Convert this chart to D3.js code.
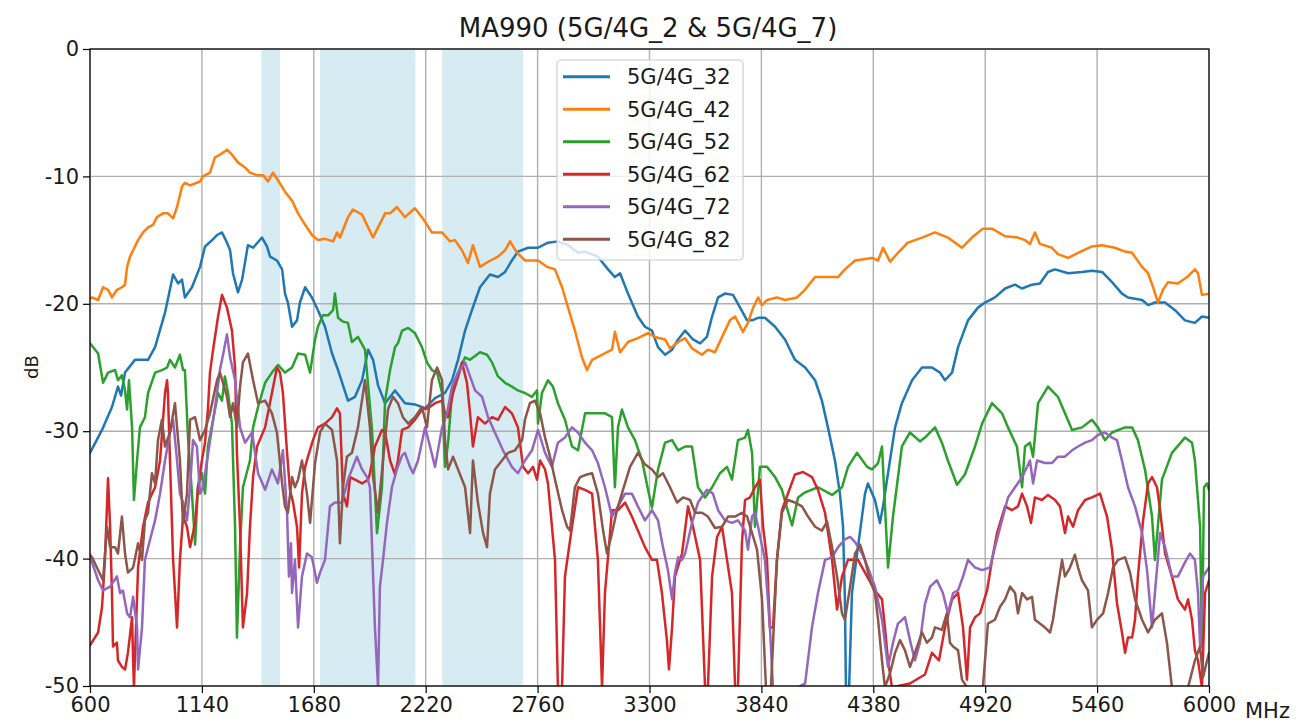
<!DOCTYPE html>
<html><head><meta charset="utf-8">
<script src="https://cdn.jsdelivr.net/npm/d3@7"></script>
<style>
html,body{margin:0;padding:0;background:#fff;}
svg text{font-family:"DejaVu Sans",sans-serif;fill:#1a1a1a;}
</style></head>
<body><svg id="c" width="1305" height="722"></svg>
<script>
const titleText = "MA990 (5G/4G_2 & 5G/4G_7)";
const seriesNames = ["5G/4G_32","5G/4G_42","5G/4G_52","5G/4G_62","5G/4G_72","5G/4G_82"];
const xTicks = [600,1140,1680,2220,2760,3300,3840,4380,4920,5460,6000];
const yTicks = [0,-10,-20,-30,-40,-50];
const bands = [[1427,1517],[1710,2170],[2300,2690]];

const f32 = [600,658,706,735,750,769,817,880,914,962,1001,1025,1044,1058,1092,1131,1155,1189,1213,1237,1261,1276,1290,1314,1334,1362,1387,1430,1454,1469,1502,1527,1541,1555,1575,1599,1613,1638,1671,1700,1734,1768,1797,1845,1879,1913,1942,1966,1990,2024,2072,2120,2168,2217,2265,2313,2347,2376,2410,2443,2482,2530,2569,2603,2636,2665,2714,2762,2810,2858,2907,2955,2989,3051,3100,3133,3158,3196,3244,3278,3312,3341,3375,3409,3438,3472,3510,3544,3577,3602,3631,3664,3703,3737,3771,3795,3824,3857,3906,3954,4002,4051,4099,4132,4161,4195,4219,4234,4243,4248,4263,4277,4306,4340,4354,4388,4412,4427,4451,4485,4518,4567,4615,4663,4702,4726,4760,4789,4837,4885,4919,4967,5016,5064,5098,5146,5184,5223,5257,5320,5387,5435,5484,5532,5580,5609,5677,5706,5739,5788,5836,5884,5932,5966,6000];
const v32 = [-31.7,-29.9,-28.1,-26.5,-27.2,-25.4,-24.4,-24.4,-23.4,-20.7,-17.7,-18.4,-18.1,-19.5,-18.7,-17.1,-15.5,-15.0,-14.6,-14.4,-15.2,-15.8,-17.6,-19.1,-18.1,-15.4,-15.6,-14.8,-15.5,-16.3,-16.6,-17.3,-19.2,-19.9,-21.8,-21.3,-19.9,-18.7,-19.5,-20.5,-21.8,-23.9,-25.2,-27.6,-27.3,-26.0,-23.6,-24.4,-26.4,-27.8,-26.8,-27.8,-27.9,-28.2,-27.4,-27.0,-26.0,-24.4,-22.1,-20.5,-18.7,-17.7,-17.9,-17.5,-16.6,-15.9,-15.6,-15.6,-15.2,-15.1,-15.4,-16.0,-15.9,-16.3,-17.3,-17.9,-17.6,-19.2,-21.0,-21.8,-22.1,-23.4,-24.0,-23.6,-22.8,-22.1,-22.8,-23.1,-22.6,-21.0,-19.5,-19.2,-19.3,-20.3,-21.3,-21.3,-21.1,-21.1,-21.8,-22.8,-24.4,-25.0,-26.0,-27.6,-29.7,-32.3,-34.9,-37.5,-43.2,-50.3,-50.3,-42.7,-39.1,-34.9,-34.1,-35.4,-37.2,-35.9,-33.3,-29.7,-27.8,-26.0,-25.0,-25.0,-25.4,-26.0,-25.4,-23.4,-21.3,-20.3,-19.9,-19.5,-18.8,-18.5,-18.8,-18.5,-18.4,-17.5,-17.3,-17.6,-17.5,-17.4,-17.5,-18.3,-19.2,-19.5,-19.7,-20.1,-19.9,-19.9,-20.5,-21.3,-21.5,-21.0,-21.1];

const f42 = [600,610,639,663,687,706,730,754,769,779,793,808,832,856,880,904,923,952,976,1001,1020,1044,1058,1083,1131,1145,1179,1203,1227,1261,1285,1314,1348,1372,1406,1435,1459,1483,1507,1541,1575,1604,1638,1671,1700,1734,1773,1792,1806,1845,1869,1913,1942,1966,1990,2024,2048,2081,2120,2168,2202,2250,2299,2337,2361,2395,2424,2448,2482,2521,2569,2603,2627,2661,2699,2762,2805,2844,2878,2907,2940,2974,2998,3023,3071,3119,3133,3158,3196,3244,3293,3327,3375,3399,3438,3472,3505,3553,3582,3616,3650,3688,3713,3751,3775,3800,3824,3843,3867,3915,3954,4012,4050,4099,4147,4210,4243,4292,4374,4403,4427,4461,4499,4547,4615,4678,4740,4808,4856,4909,4953,5016,5078,5112,5136,5160,5184,5242,5271,5320,5368,5435,5484,5546,5595,5629,5677,5706,5730,5754,5778,5802,5850,5894,5932,5947,5966,6000];
const v42 = [-19.6,-19.5,-19.7,-18.7,-18.9,-19.5,-18.9,-18.7,-18.5,-17.1,-16.3,-15.8,-15.0,-14.4,-14.0,-13.8,-13.2,-12.9,-12.9,-13.3,-12.4,-10.8,-10.5,-10.7,-10.4,-10.0,-9.7,-8.5,-8.3,-7.9,-8.3,-8.9,-9.3,-9.7,-9.9,-9.9,-10.4,-9.7,-10.3,-11.2,-11.9,-12.9,-13.8,-14.6,-15.0,-14.9,-15.1,-14.4,-14.8,-13.2,-12.6,-13.0,-14.0,-14.8,-14.0,-12.9,-12.9,-12.4,-13.2,-12.5,-13.2,-14.4,-14.4,-15.1,-15.0,-15.8,-16.8,-15.4,-17.1,-16.7,-16.3,-15.8,-15.1,-16.0,-16.6,-16.6,-17.1,-17.3,-18.7,-20.3,-22.1,-24.2,-25.2,-24.4,-24.0,-23.6,-22.2,-23.8,-23.0,-22.7,-22.3,-22.6,-22.8,-23.5,-23.0,-22.7,-23.5,-24.0,-23.6,-23.8,-22.6,-21.3,-21.0,-22.2,-21.5,-20.3,-19.5,-20.1,-19.7,-19.5,-19.7,-19.5,-18.9,-17.9,-17.9,-17.9,-17.3,-16.6,-16.4,-16.6,-15.6,-16.7,-16.0,-15.2,-14.8,-14.4,-14.8,-15.6,-14.8,-14.1,-14.1,-14.7,-14.8,-15.0,-15.3,-14.4,-15.3,-15.6,-16.1,-16.4,-16.0,-15.5,-15.4,-15.6,-15.9,-16.0,-17.1,-17.6,-18.7,-19.9,-18.9,-18.3,-18.4,-17.9,-17.3,-17.6,-19.3,-19.2];

const f52 = [600,639,663,687,721,735,754,769,779,788,803,812,827,841,865,880,914,947,972,986,1010,1034,1049,1058,1073,1092,1107,1121,1140,1155,1169,1194,1218,1237,1251,1266,1285,1300,1309,1324,1338,1372,1387,1411,1445,1478,1507,1541,1575,1604,1638,1662,1686,1700,1724,1749,1773,1782,1797,1821,1845,1864,1893,1927,1961,1985,2009,2024,2048,2072,2086,2106,2135,2168,2202,2226,2250,2275,2299,2313,2328,2347,2376,2410,2434,2482,2516,2540,2569,2603,2636,2665,2699,2733,2757,2762,2781,2810,2834,2858,2892,2926,2955,2989,3037,3085,3119,3133,3148,3167,3196,3230,3264,3293,3312,3341,3375,3409,3438,3472,3505,3534,3568,3602,3640,3674,3698,3727,3761,3775,3795,3809,3833,3867,3906,3939,3963,3988,4017,4051,4113,4181,4229,4258,4301,4350,4374,4403,4422,4451,4475,4518,4557,4605,4629,4678,4711,4740,4784,4822,4871,4905,4953,5001,5030,5073,5098,5112,5136,5151,5175,5223,5271,5305,5339,5387,5435,5464,5498,5532,5595,5629,5657,5691,5725,5739,5773,5821,5884,5918,5932,5957,5966,5976,5990,6000];
const v52 = [-23.1,-23.9,-26.2,-25.4,-25.2,-26.0,-25.6,-26.8,-28.3,-26.0,-29.7,-35.4,-32.3,-29.7,-28.9,-27.0,-25.4,-25.2,-25.0,-24.4,-25.0,-24.0,-25.2,-25.2,-30.5,-34.9,-38.9,-34.4,-33.3,-34.9,-31.2,-29.1,-27.0,-27.6,-25.7,-27.0,-29.4,-37.5,-46.2,-39.1,-34.4,-32.3,-29.7,-28.1,-26.2,-25.4,-24.8,-25.4,-25.0,-23.9,-24.0,-25.4,-22.8,-21.8,-20.9,-20.9,-20.5,-19.2,-21.1,-21.4,-21.5,-23.0,-22.6,-23.6,-29.9,-38.0,-34.4,-27.6,-25.2,-23.4,-23.1,-22.1,-21.9,-22.3,-23.4,-24.6,-25.2,-25.4,-27.0,-32.8,-30.9,-27.0,-25.4,-24.2,-24.4,-23.8,-24.0,-24.6,-25.7,-26.2,-26.5,-26.8,-27.0,-27.3,-26.8,-29.4,-27.0,-26.0,-26.5,-27.8,-29.1,-31.2,-31.5,-28.6,-28.6,-28.6,-28.9,-34.4,-29.7,-28.3,-29.7,-30.7,-32.3,-34.6,-36.0,-33.0,-30.9,-30.7,-31.5,-31.2,-31.2,-34.4,-35.2,-34.4,-33.3,-32.8,-33.8,-30.7,-30.5,-29.9,-31.7,-37.5,-32.8,-32.8,-33.6,-34.6,-36.0,-37.4,-35.2,-34.8,-34.4,-35.0,-34.4,-32.8,-31.7,-32.8,-33.0,-32.5,-31.2,-40.7,-36.7,-31.2,-30.1,-30.8,-30.5,-29.7,-30.9,-32.3,-34.2,-33.4,-31.2,-29.4,-27.8,-28.6,-29.7,-31.2,-34.4,-31.2,-30.9,-32.0,-27.8,-26.5,-27.3,-28.6,-29.9,-29.7,-29.1,-29.7,-30.7,-30.1,-29.7,-29.7,-30.7,-33.0,-36.7,-40.1,-33.8,-31.7,-30.5,-30.9,-32.3,-37.5,-46.9,-34.4,-34.1,-34.6];

const f62 = [600,639,658,672,687,697,706,711,730,735,754,769,783,803,808,812,832,856,880,914,938,962,972,976,986,1001,1020,1034,1049,1068,1083,1107,1121,1140,1155,1169,1179,1194,1218,1237,1261,1285,1300,1309,1324,1338,1358,1372,1387,1406,1445,1478,1502,1517,1531,1551,1565,1580,1599,1609,1623,1638,1652,1676,1700,1734,1768,1792,1806,1816,1821,1840,1855,1879,1913,1942,1951,1975,2009,2024,2048,2072,2086,2106,2135,2168,2202,2231,2265,2299,2313,2328,2352,2386,2395,2419,2434,2448,2472,2506,2540,2569,2603,2636,2665,2690,2714,2738,2757,2772,2796,2810,2844,2858,2878,2892,2926,2955,2989,3023,3051,3071,3085,3119,3148,3182,3215,3244,3278,3312,3336,3360,3384,3394,3409,3423,3457,3486,3510,3544,3568,3582,3602,3626,3650,3674,3698,3713,3727,3746,3761,3785,3809,3833,3848,3867,3881,3896,3915,3939,3968,4002,4041,4084,4113,4147,4181,4205,4229,4258,4306,4350,4388,4422,4436,4451,4470,4557,4629,4663,4697,4726,4760,4789,4813,4832,4847,4871,4895,4929,4953,4977,5016,5049,5078,5098,5122,5141,5160,5194,5223,5257,5281,5305,5320,5344,5368,5402,5435,5474,5508,5532,5556,5580,5595,5609,5629,5643,5657,5682,5706,5725,5749,5764,5788,5821,5850,5884,5899,5918,5932,5947,5966,5981,6000];
const v62 = [-46.8,-45.8,-43.8,-40.1,-33.7,-37.5,-42.7,-46.9,-46.6,-48.0,-48.5,-48.7,-47.4,-44.6,-48.0,-50.1,-40.7,-37.5,-35.6,-34.4,-32.3,-27.0,-26.0,-27.0,-32.3,-40.1,-45.4,-40.1,-36.7,-37.5,-39.1,-37.2,-34.4,-32.3,-30.9,-28.3,-25.4,-23.6,-21.0,-19.3,-20.3,-22.1,-25.0,-31.7,-37.5,-45.4,-42.7,-37.5,-33.6,-31.2,-29.7,-27.0,-25.0,-25.4,-27.0,-31.7,-34.6,-35.6,-37.5,-40.7,-34.9,-32.8,-32.0,-30.7,-29.7,-29.4,-28.9,-28.2,-28.6,-32.8,-34.9,-35.9,-33.6,-33.8,-34.1,-33.8,-33.3,-31.2,-29.9,-30.1,-32.3,-33.4,-32.3,-29.9,-29.7,-29.1,-28.3,-28.2,-27.8,-27.6,-28.6,-28.9,-27.0,-25.2,-24.6,-26.2,-28.6,-31.2,-28.9,-29.4,-28.9,-29.1,-28.1,-28.6,-29.7,-32.8,-33.3,-32.8,-33.8,-32.3,-33.0,-34.1,-40.1,-50.1,-50.1,-41.4,-37.5,-34.4,-34.6,-34.9,-40.1,-50.1,-42.7,-36.2,-36.2,-35.6,-36.7,-37.8,-39.1,-40.1,-40.1,-42.7,-46.4,-48.7,-45.4,-41.4,-39.6,-35.9,-37.5,-40.1,-50.1,-50.1,-41.4,-38.3,-37.5,-40.1,-42.7,-50.1,-50.1,-38.8,-35.4,-35.2,-34.4,-33.8,-37.5,-40.1,-45.4,-45.4,-40.1,-36.2,-34.9,-33.4,-33.2,-33.6,-34.6,-36.4,-40.1,-44.0,-41.4,-40.1,-40.1,-41.4,-42.5,-43.2,-45.4,-48.0,-50.1,-49.8,-49.1,-47.4,-48.0,-45.4,-43.2,-42.7,-45.4,-49.5,-45.4,-44.6,-44.3,-42.5,-40.1,-38.0,-35.9,-36.2,-35.9,-34.9,-35.9,-37.2,-35.2,-35.4,-35.0,-35.4,-35.9,-38.0,-36.7,-37.5,-36.2,-35.4,-35.2,-34.9,-36.7,-39.3,-43.5,-45.8,-47.4,-46.2,-46.2,-44.8,-41.4,-37.0,-34.1,-33.6,-34.4,-36.2,-39.6,-41.4,-43.2,-44.0,-43.2,-44.8,-47.2,-48.0,-50.1,-42.7,-41.7];

const f72 = [600,610,639,663,697,730,745,759,779,793,808,827,832,851,865,890,914,938,962,986,1001,1020,1034,1049,1068,1083,1097,1116,1131,1145,1165,1189,1213,1227,1242,1261,1276,1300,1324,1348,1382,1411,1445,1478,1507,1531,1551,1560,1570,1575,1589,1604,1623,1647,1671,1695,1710,1734,1758,1782,1816,1845,1888,1913,1937,1951,1975,1990,1999,2014,2033,2057,2081,2106,2120,2144,2159,2183,2217,2241,2265,2299,2323,2347,2376,2410,2434,2458,2492,2521,2554,2593,2636,2665,2699,2733,2762,2796,2829,2858,2892,2926,2955,2989,3023,3051,3085,3119,3148,3182,3215,3244,3278,3312,3341,3365,3389,3409,3423,3438,3457,3472,3505,3534,3577,3606,3631,3664,3698,3727,3761,3775,3795,3809,3824,3857,3881,3896,4017,4051,4084,4113,4147,4181,4210,4243,4268,4292,4326,4354,4388,4422,4451,4475,4499,4533,4557,4581,4605,4629,4654,4687,4716,4740,4765,4789,4813,4837,4871,4905,4943,4967,5001,5030,5064,5098,5122,5136,5151,5170,5208,5242,5271,5305,5339,5368,5402,5435,5464,5498,5532,5556,5580,5609,5643,5677,5701,5725,5739,5764,5788,5821,5850,5884,5908,5932,5947,5957,5971,6000];
const v72 = [-39.8,-40.3,-41.7,-42.5,-42.2,-41.4,-42.7,-42.5,-44.3,-44.6,-43.0,-45.4,-48.7,-45.4,-40.1,-38.5,-37.0,-34.9,-32.3,-30.1,-29.1,-32.3,-34.9,-35.6,-37.0,-34.4,-30.7,-31.2,-34.9,-34.4,-32.3,-29.7,-27.0,-25.2,-24.0,-22.4,-24.2,-26.0,-29.7,-30.9,-30.1,-33.3,-34.6,-33.0,-34.1,-31.5,-36.4,-41.4,-38.8,-42.7,-40.1,-45.4,-41.4,-39.6,-39.9,-41.9,-41.1,-40.1,-35.9,-35.6,-35.6,-33.8,-32.0,-33.0,-33.6,-34.4,-45.4,-50.1,-42.2,-40.1,-37.2,-34.4,-33.0,-31.9,-31.7,-32.8,-33.3,-32.3,-29.7,-31.2,-32.8,-29.7,-28.6,-26.5,-25.4,-24.6,-25.7,-26.8,-27.3,-28.9,-30.1,-31.5,-32.8,-33.3,-32.3,-31.5,-29.9,-31.7,-32.8,-30.9,-30.5,-29.7,-30.1,-30.9,-31.5,-32.5,-34.4,-36.7,-35.9,-34.9,-34.9,-35.9,-37.0,-36.2,-37.0,-39.1,-40.9,-43.2,-41.1,-39.9,-40.1,-39.6,-37.2,-35.6,-34.6,-34.9,-36.2,-37.0,-37.2,-37.0,-37.8,-39.3,-36.7,-36.4,-37.5,-40.1,-45.4,-50.1,-50.1,-49.8,-45.4,-42.7,-40.1,-39.9,-39.1,-38.5,-38.3,-38.7,-39.6,-40.7,-42.2,-44.8,-48.5,-46.6,-45.1,-44.6,-46.4,-48.0,-46.6,-43.6,-42.2,-41.7,-42.7,-44.3,-42.7,-42.5,-41.4,-40.1,-40.7,-40.9,-40.7,-39.1,-37.0,-35.2,-34.4,-33.6,-32.8,-32.3,-34.1,-32.3,-32.5,-32.5,-32.0,-32.0,-31.5,-31.2,-30.9,-30.7,-30.3,-30.1,-30.5,-30.7,-32.3,-34.4,-35.9,-38.0,-40.9,-45.4,-42.7,-38.0,-39.1,-41.4,-41.4,-40.3,-39.6,-40.1,-42.7,-46.9,-41.4,-40.7];

const f82 = [600,610,639,663,682,697,721,735,754,769,783,808,832,851,865,880,899,914,928,947,962,986,1010,1034,1049,1068,1083,1107,1131,1155,1179,1213,1227,1242,1261,1276,1290,1309,1324,1338,1362,1387,1411,1445,1478,1502,1527,1541,1555,1575,1589,1604,1623,1647,1662,1686,1710,1734,1768,1792,1806,1821,1840,1864,1893,1927,1951,1966,1990,2014,2038,2062,2086,2110,2135,2168,2202,2226,2250,2275,2299,2313,2328,2352,2376,2410,2434,2448,2472,2497,2516,2530,2554,2588,2617,2651,2685,2699,2723,2747,2772,2796,2820,2844,2878,2902,2916,2940,2965,2998,3023,3051,3076,3095,3119,3143,3172,3206,3244,3278,3312,3341,3365,3399,3433,3462,3496,3520,3553,3582,3616,3650,3679,3713,3746,3771,3795,3819,3843,3862,3886,3915,3939,3968,4002,4036,4065,4099,4132,4157,4181,4205,4229,4243,4268,4292,4316,4340,4364,4388,4403,4422,4436,4461,4485,4509,4533,4557,4581,4615,4639,4663,4678,4711,4735,4750,4765,4789,4808,4832,4909,4933,4967,4991,5016,5040,5064,5078,5098,5122,5146,5160,5184,5208,5233,5247,5266,5291,5305,5329,5353,5368,5387,5416,5435,5460,5489,5513,5537,5561,5595,5619,5643,5677,5706,5739,5773,5797,5821,5899,5932,5957,5971,6000];
const v82 = [-39.7,-39.9,-40.9,-41.7,-37.5,-39.1,-39.1,-39.6,-36.7,-39.6,-41.1,-40.7,-38.8,-40.1,-37.0,-36.4,-33.3,-34.1,-30.7,-29.1,-31.2,-30.1,-27.8,-32.3,-37.2,-34.9,-29.1,-28.9,-30.7,-29.9,-28.6,-26.0,-25.4,-26.2,-27.3,-28.9,-27.8,-29.7,-26.5,-24.6,-23.9,-26.0,-27.8,-27.6,-28.6,-30.1,-34.1,-35.9,-36.4,-33.6,-34.4,-33.8,-32.3,-34.9,-37.2,-32.5,-30.1,-29.4,-29.9,-32.3,-38.8,-34.4,-32.0,-31.7,-29.7,-26.0,-29.7,-33.6,-36.4,-32.3,-28.3,-27.3,-27.8,-28.9,-29.4,-28.9,-28.1,-29.7,-26.0,-25.0,-26.0,-30.7,-33.0,-32.0,-33.0,-34.4,-38.0,-32.3,-35.6,-38.0,-39.1,-34.9,-33.0,-32.3,-31.7,-31.5,-30.7,-29.1,-27.8,-27.6,-28.6,-30.5,-32.0,-33.8,-36.2,-37.5,-37.8,-34.4,-33.6,-33.4,-33.3,-34.9,-37.8,-39.6,-38.0,-36.2,-34.6,-32.8,-31.7,-32.6,-33.0,-33.6,-33.3,-34.4,-35.6,-35.2,-35.4,-36.4,-36.4,-36.7,-37.6,-37.5,-36.7,-36.7,-36.4,-36.7,-38.0,-39.3,-43.2,-50.1,-50.1,-40.1,-36.4,-35.4,-35.6,-35.9,-36.7,-37.5,-37.8,-37.1,-39.1,-41.4,-44.3,-44.8,-42.2,-39.6,-38.9,-40.1,-41.7,-42.7,-44.8,-48.0,-50.1,-49.0,-47.4,-46.4,-47.2,-48.5,-47.4,-45.8,-46.6,-46.2,-45.4,-45.6,-44.3,-46.6,-46.9,-47.2,-49.5,-50.1,-50.1,-45.1,-44.8,-43.8,-43.2,-42.2,-42.7,-44.3,-42.7,-43.2,-43.0,-44.8,-45.1,-45.4,-45.8,-44.8,-42.7,-40.1,-41.4,-40.7,-39.7,-40.7,-41.7,-42.5,-45.4,-44.8,-44.3,-42.7,-40.7,-40.1,-39.9,-41.1,-43.2,-44.8,-45.8,-44.8,-44.3,-46.6,-50.1,-50.1,-48.0,-46.9,-49.3,-47.4];

const seriesFreq = [f32,f42,f52,f62,f72,f82];
const seriesVals = [v32,v42,v52,v62,v72,v82];
const colors = ["#1f77b4","#ff7f0e","#2ca02c","#d62728","#9467bd","#8c564b"];

const m = {left:90, right:1209, top:49, bottom:686};
const svg = d3.select("#c");
const x = d3.scaleLinear().domain([600,6000]).range([m.left,m.right]);
const y = d3.scaleLinear().domain([-50,0]).range([m.bottom,m.top]);

svg.append("defs").append("clipPath").attr("id","clip")
  .append("rect").attr("x",m.left).attr("y",m.top).attr("width",m.right-m.left).attr("height",m.bottom-m.top);

// bands
svg.append("g").selectAll("rect").data(bands).join("rect")
  .attr("x",d=>x(d[0])).attr("width",d=>x(d[1])-x(d[0]))
  .attr("y",m.top).attr("height",m.bottom-m.top)
  .attr("fill","#add8e6").attr("fill-opacity",0.5);

// grid
const grid = svg.append("g").attr("stroke","#b0b0b0").attr("stroke-width",1.4);
grid.selectAll("line.v").data(xTicks).join("line").attr("class","v")
  .attr("x1",d=>x(d)).attr("x2",d=>x(d)).attr("y1",m.top).attr("y2",m.bottom);
grid.selectAll("line.h").data(yTicks).join("line").attr("class","h")
  .attr("y1",d=>y(d)).attr("y2",d=>y(d)).attr("x1",m.left).attr("x2",m.right);

// lines
const line = d3.line().x(d=>x(d[0])).y(d=>y(d[1]));
const lg = svg.append("g").attr("clip-path","url(#clip)");
seriesFreq.forEach((fr,i)=>{
  const pts = fr.map((f,j)=>[f, seriesVals[i][j]]);
  lg.append("path").datum(pts).attr("d",line)
    .attr("fill","none").attr("stroke",colors[i]).attr("stroke-width",2.5)
    .attr("stroke-linejoin","round").attr("stroke-linecap","round");
});

// frame
svg.append("rect").attr("x",m.left).attr("y",m.top).attr("width",m.right-m.left).attr("height",m.bottom-m.top)
  .attr("fill","none").attr("stroke","#000").attr("stroke-width",1.2);

// axes
const xAxis = d3.axisBottom(x).tickValues(xTicks).tickSize(7).tickPadding(4).tickFormat(d3.format("d"));
const gx = svg.append("g").attr("transform",`translate(0,${m.bottom})`).call(xAxis);
const yAxis = d3.axisLeft(y).tickValues(yTicks).tickSize(7).tickPadding(4).tickFormat(d=>d===0?"0":String(d));
const gy = svg.append("g").attr("transform",`translate(${m.left},0)`).call(yAxis);
[gx,gy].forEach(g=>{
  g.select(".domain").remove();
  g.selectAll(".tick line").attr("stroke","#000").attr("stroke-width",1.2);
  g.selectAll(".tick text").attr("font-size",21).attr("fill","#1a1a1a").attr("font-family","DejaVu Sans");
});
gx.selectAll(".tick text").attr("dy","0.71em");

svg.append("text").attr("x",1245).attr("y",718).attr("font-size",21).text("MHz");
svg.append("text").attr("transform","translate(38,367) rotate(-90)").attr("text-anchor","middle")
  .attr("font-size",18).text("dB");
svg.append("text").attr("x",648).attr("y",37).attr("text-anchor","middle").attr("font-size",26).text(titleText);

// legend
const leg = svg.append("g");
leg.append("rect").attr("x",557).attr("y",60).attr("width",186).attr("height",200).attr("rx",4)
  .attr("fill","#fff").attr("fill-opacity",0.8).attr("stroke","#cccccc").attr("stroke-width",1.2);
seriesNames.forEach((n,i)=>{
  const yy = 76.7 + i*32.5;
  leg.append("line").attr("x1",563).attr("x2",610).attr("y1",yy).attr("y2",yy)
    .attr("stroke",colors[i]).attr("stroke-width",3);
  leg.append("text").attr("x",627).attr("y",yy).attr("dy","0.36em").attr("font-size",21).text(n);
});
</script></body></html>
